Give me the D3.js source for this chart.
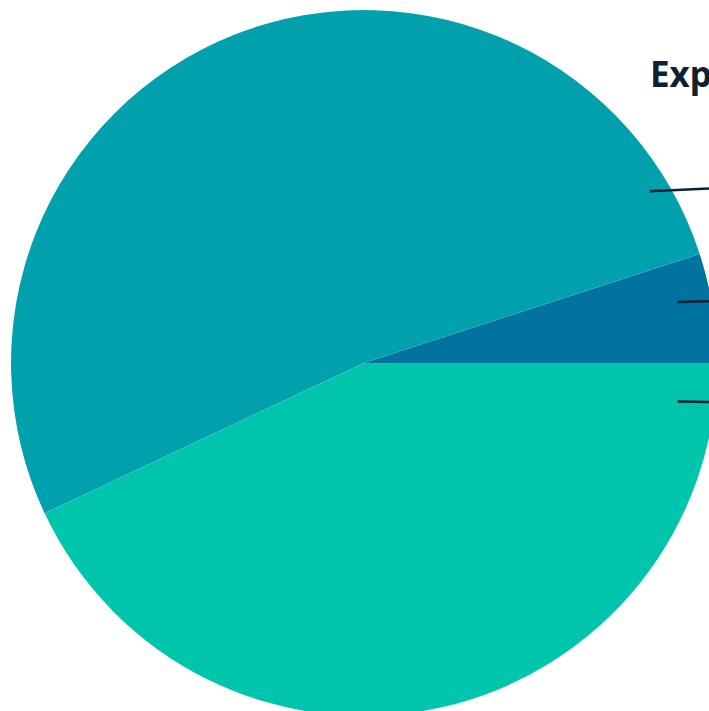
<!DOCTYPE html>
<html>
<head>
<meta charset="utf-8">
<script src="https://cdn.jsdelivr.net/npm/d3@7.9.0/dist/d3.min.js"></script>
<style>
  html, body { margin: 0; padding: 0; background: #fff; overflow: hidden; }
  svg { display: block; }
</style>
</head>
<body>
<svg id="chart" width="709" height="711"></svg>
<script>
// slice order goes clockwise from 3 o'clock
const categories = ["Green", "Teal", "Blue"];
const shares = [43, 52, 5];          // percent of total
const colors = ["#00c5ad", "#00a0ad", "#0073a0"];
const title = "Expenses";

const width = 709, height = 711;
const cx = 364, cy = 363, radius = 353;

const svg = d3.select("#chart");
const g = svg.append("g").attr("transform", `translate(${cx},${cy})`);

let data = categories.map((c, i) => ({ label: c, value: shares[i], color: colors[i] }));

// pie starting at east, going clockwise
let pie = d3.pie()
  .sort(null)
  .value(d => d.value)
  .startAngle(Math.PI / 2)
  .endAngle(Math.PI / 2 + 2 * Math.PI);

let arcGen = d3.arc().innerRadius(0).outerRadius(radius);
let arcs = pie(data);

g.selectAll("path.slice")
  .data(arcs)
  .join("path")
  .attr("class", "slice")
  .attr("d", arcGen)
  .attr("fill", d => d.data.color)
  .attr("stroke", "rgba(255,255,255,0.12)")
  .attr("stroke-width", 0.5);

// leader lines out to labels on the right (angles in degrees, screen clockwise from east)
const anchorDeg = [7, -31, -11];
const anchorR = [0.895, 0.945, 0.905];

arcs.forEach((a, i) => {
  let t = anchorDeg[i] * Math.PI / 180;
  let r = anchorR[i] * radius;
  let x0 = r * Math.cos(t), y0 = r * Math.sin(t);
  let x1 = radius * 1.12, y1 = y0 * 1.03;
  g.append("line")
    .attr("x1", x0).attr("y1", y0)
    .attr("x2", x1).attr("y2", y1)
    .attr("stroke", "#0c2234")
    .attr("stroke-width", 2.5);
});

svg.append("text")
  .attr("x", 650)
  .attr("y", 87)
  .attr("font-family", "'Noto Sans', sans-serif")
  .attr("font-weight", 700)
  .attr("font-size", 35)
  .attr("fill", "#0c2234")
  .text(title);
</script>
</body>
</html>
